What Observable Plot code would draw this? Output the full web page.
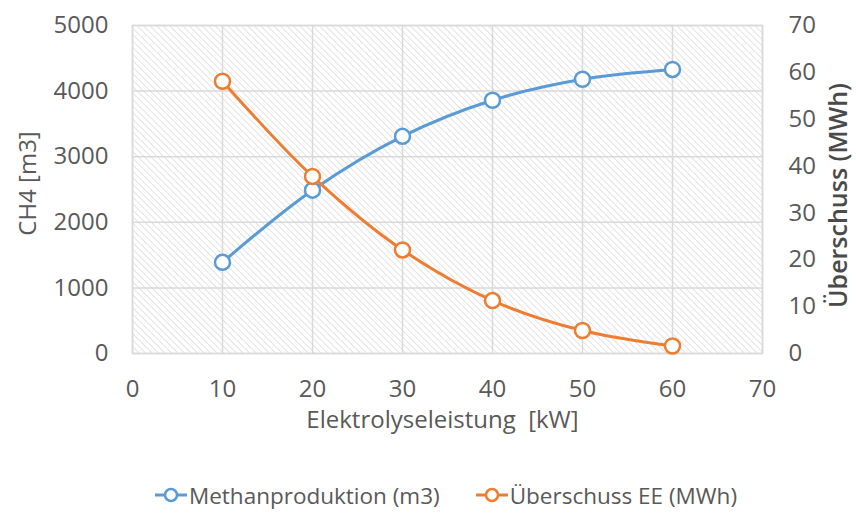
<!DOCTYPE html>
<html>
<head>
<meta charset="utf-8">
<script src="https://cdn.jsdelivr.net/npm/d3@7"></script>
<script src="https://cdn.jsdelivr.net/npm/@observablehq/plot@0.6"></script>
<style>
  html, body { margin: 0; padding: 0; background: #fff; }
  #chart { width: 856px; }
  .legend { display: flex; justify-content: center; align-items: center; gap: 36px; height: 50px; margin-top: 10px;
            padding-left: 36px; box-sizing: border-box; width: 856px;
            font-family: "Open Sans", sans-serif; font-size: 22.5px; color: #595959; }
  .legend .item { display: flex; align-items: center; }
  .legend svg { margin-right: 2px; }
</style>
</head>
<body>
<div id="chart"></div>
<script>
// Data
const leistung = [10, 20, 30, 40, 50, 60];                 // Elektrolyseleistung [kW]
const methan = [1390, 2490, 3310, 3860, 4180, 4330];       // CH4 [m3]
const ueberschuss = [58.1, 37.8, 22.1, 11.3, 4.9, 1.6];    // Überschuss EE (MWh)
const xTicks = [0, 10, 20, 30, 40, 50, 60, 70];
const yLeftTicks = [0, 1000, 2000, 3000, 4000, 5000];
const yRightTicks = [0, 10, 20, 30, 40, 50, 60, 70];
const seriesNames = ["Methanproduktion (m3)", "Überschuss EE (MWh)"];
const colors = ["#5b9bd5", "#ed7d31"];

const leftMax = 5000, rightMax = 70;
const toLeft = v => v * leftMax / rightMax;

const methanData = leistung.map((x, i) => ({x, y: methan[i]}));
const ueberData = leistung.map((x, i) => ({x, y: toLeft(ueberschuss[i])}));

const font = "'Open Sans', sans-serif";
const tickColor = "#595959";

const defsMark = () => {
  const ns = "http://www.w3.org/2000/svg";
  const defs = document.createElementNS(ns, "defs");
  defs.innerHTML = `<pattern id="hatch" patternUnits="userSpaceOnUse" width="4.6" height="4.6" patternTransform="rotate(-45)">
      <rect width="4.6" height="4.6" fill="#ffffff"></rect>
      <line x1="0" y1="0" x2="0" y2="4.6" stroke="#dadada" stroke-width="1.5"></line>
    </pattern>`;
  return defs;
};

const plot = Plot.plot({
  width: 856,
  height: 460,
  marginLeft: 132,
  marginRight: 94,
  marginTop: 25,
  marginBottom: 107,
  style: { fontFamily: font, fontSize: "24px", color: tickColor, background: "#fff" },
  x: { domain: [0, 70] },
  y: { domain: [0, leftMax] },
  marks: [
    defsMark,
    Plot.frame({ fill: "url(#hatch)", stroke: "none" }),
    Plot.gridX(xTicks, { stroke: "#d9d9d9", strokeOpacity: 1, strokeWidth: 1.5 }),
    Plot.gridY(yLeftTicks, { stroke: "#d9d9d9", strokeOpacity: 1, strokeWidth: 1.5 }),
    Plot.frame({ stroke: "#d9d9d9", strokeWidth: 1.5 }),
    Plot.axisX(xTicks, { tickSize: 0, tickPadding: 26, label: null, fill: tickColor, fontSize: 24, tickFormat: d => String(d) }),
    Plot.axisY(yLeftTicks, { anchor: "left", tickSize: 0, tickPadding: 24, label: null, fill: tickColor, fontSize: 24, tickFormat: d => String(d) }),
    Plot.axisY(yRightTicks.map(toLeft), { anchor: "right", tickSize: 0, tickPadding: 26, label: null, fill: tickColor, fontSize: 24,
      tickFormat: d => String(Math.round(d * rightMax / leftMax)) }),
    Plot.text(["CH4 [m3]"], { frameAnchor: "left", textAnchor: "middle", lineAnchor: "middle", rotate: -90, dx: -104, dy: -6, fill: tickColor, fontSize: 24 }),
    Plot.text(["Überschuss (MWh)"], { frameAnchor: "right", textAnchor: "middle", lineAnchor: "middle", rotate: -90, dx: 76, dy: 6, fill: "#4a4a4a", fontSize: 25, fontWeight: 600 }),
    Plot.text(["Elektrolyseleistung  [kW]"], { frameAnchor: "bottom", textAnchor: "middle", lineAnchor: "middle", dy: 67, dx: -5, fill: tickColor, fontSize: 24 }),
    Plot.line(methanData, { x: "x", y: "y", stroke: colors[0], strokeWidth: 3, curve: "catmull-rom" }),
    Plot.dot(methanData, { x: "x", y: "y", r: 7.5, stroke: colors[0], strokeWidth: 2.5, fill: "#ffffff" }),
    Plot.line(ueberData, { x: "x", y: "y", stroke: colors[1], strokeWidth: 3, curve: "catmull-rom" }),
    Plot.dot(ueberData, { x: "x", y: "y", r: 7.5, stroke: colors[1], strokeWidth: 2.5, fill: "#ffffff" })
  ]
});
document.getElementById("chart").appendChild(plot);

// Legend below the SVG
const legend = document.createElement("div");
legend.className = "legend";
seriesNames.forEach((name, i) => {
  const item = document.createElement("div");
  item.className = "item";
  item.innerHTML = `<svg width="32" height="20"><line x1="0" y1="10" x2="32" y2="10" stroke="${colors[i]}" stroke-width="3"></line>
    <circle cx="16" cy="10" r="6" fill="#fff" stroke="${colors[i]}" stroke-width="2.5"></circle></svg><span>${name}</span>`;
  legend.appendChild(item);
});
document.getElementById("chart").appendChild(legend);
</script>
</body>
</html>
